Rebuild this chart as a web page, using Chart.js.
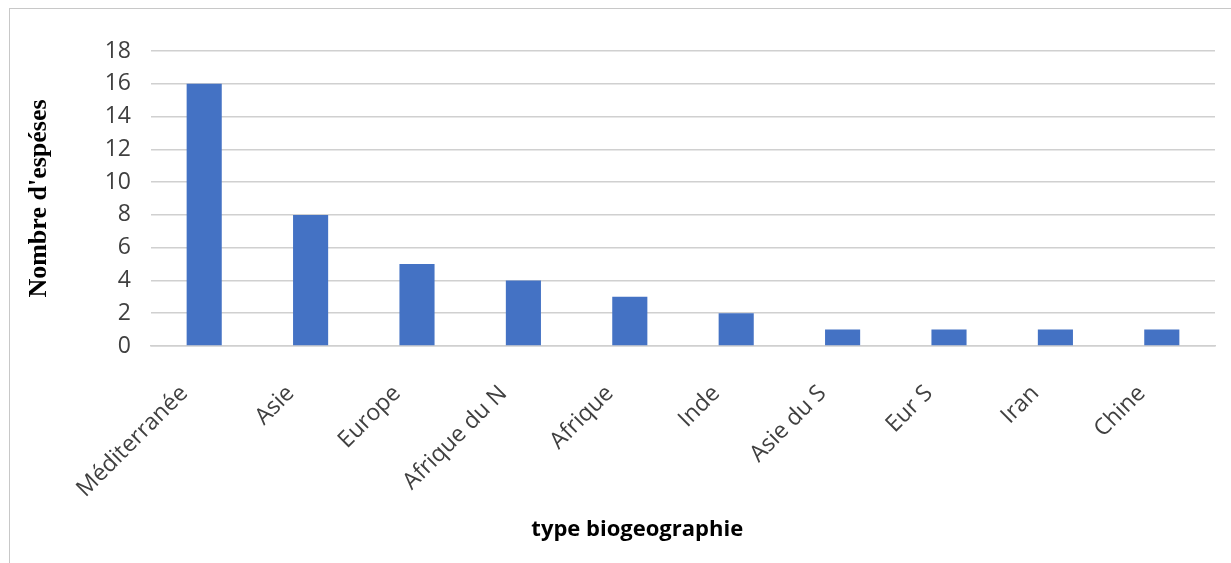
<!DOCTYPE html>
<html>
<head>
<meta charset="utf-8">
<script src="https://cdn.jsdelivr.net/npm/chart.js@4"></script>
<style>
  html, body { margin: 0; padding: 0; background: #fff; }
  #wrap { position: relative; width: 1231px; height: 563px; overflow: hidden; }
  #frame { position: absolute; left: 9px; top: 8px; width: 1240px; height: 580px; border: 1px solid #c8c8c8; box-sizing: border-box; }
  canvas { position: absolute; left: 0; top: 0; }
</style>
</head>
<body>
<div id="wrap">
  <div id="frame"></div>
  <canvas id="chart" width="1231" height="563"></canvas>
</div>
<script>
  // Données
  const categories = ['Méditerranée', 'Asie', 'Europe', 'Afrique du N', 'Afrique', 'Inde', 'Asie du S', 'Eur S', 'Iran', 'Chine'];
  const especes = [16, 8, 5, 4, 3, 2, 1, 1, 1, 1];
  const yTicks = [0, 2, 4, 6, 8, 10, 12, 14, 16, 18];
  const titreX = 'type biogeographie';
  const titreY = "Nombre d'espéses";

  // titre de l'axe X, un peu à gauche du centre comme dans Excel
  const titreXPlugin = {
    id: 'titreX',
    afterDraw(chart) {
      const c = chart.ctx;
      const area = chart.chartArea;
      c.save();
      c.font = 'bold 22px "Open Sans"';
      c.fillStyle = '#000';
      c.textAlign = 'center';
      c.textBaseline = 'middle';
      c.fillText(titreX, area.left + area.width * 0.457, 530);
      c.restore();
    }
  };

  const ctx = document.getElementById('chart').getContext('2d');
  new Chart(ctx, {
    type: 'bar',
    data: {
      labels: categories,
      datasets: [{
        label: titreY,
        data: especes,
        backgroundColor: '#4472C4',
        categoryPercentage: 1,
        barPercentage: 0.33
      }]
    },
    plugins: [titreXPlugin],
    options: {
      responsive: false,
      animation: false,
      layout: { padding: { left: 0, top: 51, right: 16, bottom: 0 } },
      plugins: { legend: { display: false }, tooltip: { enabled: false } },
      scales: {
        x: {
          afterFit: (scale) => { scale.height = 217; },
          grid: { display: false, drawTicks: false },
          border: { color: '#d0d0d0', width: 1.5 },
          ticks: {
            minRotation: 45, maxRotation: 45, autoSkip: false,
            padding: 34, labelOffset: -20,
            color: '#404040',
            font: { family: 'Open Sans', size: 23 }
          }
        },
        y: {
          min: 0, max: 18,
          afterFit: (scale) => { scale.width = 151; },
          afterBuildTicks: (scale) => { scale.ticks = yTicks.map(v => ({ value: v })); },
          grid: { color: '#d0d0d0', lineWidth: 1.5, drawTicks: false },
          border: { display: false },
          ticks: {
            padding: 20, color: '#404040',
            font: { family: 'Open Sans', size: 23 }
          },
          title: {
            display: true, text: titreY, color: '#000',
            font: { family: 'Liberation Serif', size: 26, weight: 'bold' },
            padding: { top: 24, bottom: 0 }
          }
        }
      }
    }
  });
</script>
</body>
</html>
